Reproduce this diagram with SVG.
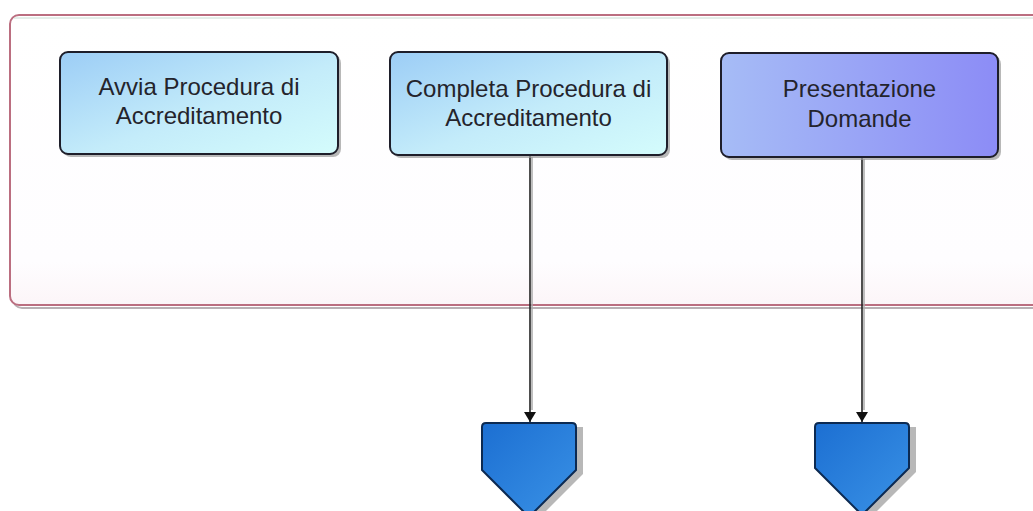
<svg xmlns="http://www.w3.org/2000/svg" width="1033" height="511" viewBox="0 0 1033 511">
<defs>
<linearGradient id="gCyan" x1="0" y1="0" x2="1" y2="1">
<stop offset="0" stop-color="#9ccdf6"/>
<stop offset="0.55" stop-color="#c4ecfa"/>
<stop offset="1" stop-color="#d4fcfc"/>
</linearGradient>
<linearGradient id="gPurple" x1="0" y1="0" x2="1" y2="0">
<stop offset="0" stop-color="#a6bcf6"/>
<stop offset="1" stop-color="#8c8cf6"/>
</linearGradient>
<linearGradient id="gBlue" x1="0" y1="0" x2="1" y2="1">
<stop offset="0" stop-color="#1c6fd2"/>
<stop offset="1" stop-color="#3a92e6"/>
</linearGradient>
<linearGradient id="gPane" x1="0" y1="0" x2="0" y2="1">
<stop offset="0" stop-color="#ffffff"/>
<stop offset="0.85" stop-color="#fefdff"/>
<stop offset="1" stop-color="#fcf5f8"/>
</linearGradient>
<marker id="arr" markerWidth="12" markerHeight="12" refX="10" refY="6" orient="auto" markerUnits="userSpaceOnUse">
<path d="M0,0 L10,6 L0,12 Z" fill="#111"/>
</marker>
</defs>
<style>
.shadow{fill:#9a9a9a;opacity:0.7}
.box{stroke:#1e1e2a;stroke-width:2}
.lbl{font-family:"Liberation Sans",Arial,sans-serif;font-size:24px;fill:#24242c;text-anchor:middle}
.conn{stroke:#222;stroke-width:1.6;fill:none}
.connShadow{stroke:#aaa;stroke-width:1.5;fill:none}
.term{fill:url(#gBlue);stroke:#0c2a52;stroke-width:2;stroke-linejoin:round}
</style>
<rect width="1033" height="511" fill="#ffffff"/>
<g id="pool">
<rect x="13" y="18" width="1040" height="290" rx="9" fill="none" stroke="#b8b0b4" stroke-width="2"/>
<rect x="10" y="15" width="1040" height="290" rx="9" fill="url(#gPane)" stroke="#bb6e80" stroke-width="2"/>
<line x1="14" y1="18" x2="1033" y2="18" stroke="#c8dcd2" stroke-width="1"/>
</g>
<g id="connectors">
<line class="connShadow" x1="532" y1="157" x2="532" y2="410"/>
<line class="conn" x1="530" y1="155" x2="530" y2="422" marker-end="url(#arr)"/>
<line class="connShadow" x1="864" y1="159" x2="864" y2="410"/>
<line class="conn" x1="862" y1="157" x2="862" y2="422" marker-end="url(#arr)"/>
</g>
<g id="avvia">
<rect class="shadow" x="63" y="55" width="278" height="102" rx="8"/>
<rect class="box" x="60" y="52" width="278" height="102" rx="8" fill="url(#gCyan)"/>
<text class="lbl" x="199" y="95">Avvia Procedura di</text>
<text class="lbl" x="199" y="124">Accreditamento</text>
</g>
<g id="completa">
<rect class="shadow" x="393" y="55" width="277" height="103" rx="8"/>
<rect class="box" x="390" y="52" width="277" height="103" rx="8" fill="url(#gCyan)"/>
<text class="lbl" x="528.5" y="97">Completa Procedura di</text>
<text class="lbl" x="528.5" y="126">Accreditamento</text>
</g>
<g id="presentazione">
<rect class="shadow" x="724" y="56" width="277" height="104" rx="8"/>
<rect class="box" x="721" y="53" width="277" height="104" rx="8" fill="url(#gPurple)"/>
<text class="lbl" x="859.5" y="97">Presentazione</text>
<text class="lbl" x="859.5" y="127">Domande</text>
</g>
<g id="end1">
<path class="shadow" d="M489,427 L583,427 L583,474 L536,521 L489,474 Z"/>
<path class="term" d="M486,423 L572,423 Q576,423 576,427 L576,470 L529,517 L482,470 L482,427 Q482,423 486,423 Z"/>
</g>
<g id="end2">
<path class="shadow" d="M822,427 L916,427 L916,472 L869,519 L822,472 Z"/>
<path class="term" d="M819,423 L905,423 Q909,423 909,427 L909,468 L862,515 L815,468 L815,427 Q815,423 819,423 Z"/>
</g>
</svg>
